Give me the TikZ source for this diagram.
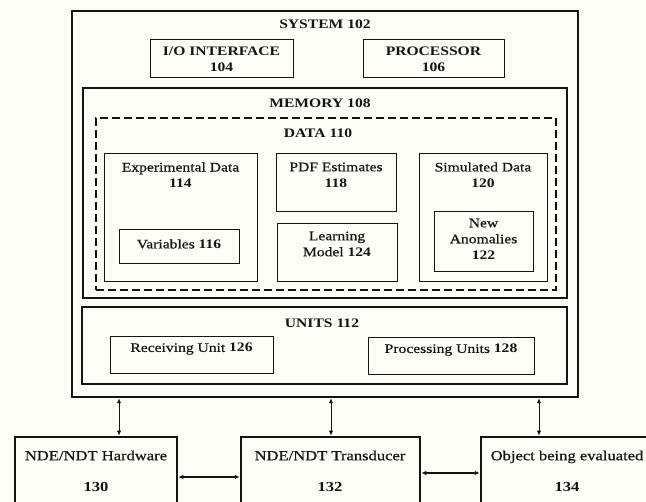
\documentclass[tikz,border=0pt]{standalone}
\usepackage{fontspec}
\setmainfont{Liberation Serif}[FakeStretch=1.2, UprightFeatures={FakeBold=0.6}]
\usetikzlibrary{arrows.meta,fit}
\definecolor{paper}{RGB}{254,254,246}
\definecolor{ink}{RGB}{20,20,20}

\begin{document}
\begin{tikzpicture}[x=1pt,y=-1pt,
  box/.style={draw=ink, line width=1pt, inner sep=0pt},
  heavybox/.style={box, line width=2.5pt},
  midbox/.style={box, line width=1.6pt},
  dashbox/.style={box, line width=1.4pt, dash pattern=on 8pt off 4pt},
  lbl/.style={text=ink, align=center, inner sep=0pt,
    font=\fontsize{13}{16}\selectfont},
  biglbl/.style={lbl, font=\fontsize{13.8}{31}\selectfont},
  link/.style={draw=ink, line width=1pt,
    {Latex[length=5pt,width=4.5pt]}-{Latex[length=5pt,width=4.5pt]}}]

% page
\fill[paper] (0,0) rectangle (646,502);
\useasboundingbox (0,0) rectangle (646,502);
\clip (0,0) rectangle (646,502);

% system and its parts
\node[heavybox, fit={(72,11) (578,397)}] (sys) {};
\node[box, fit={(150,40) (293,78)}] (io) {};
\node[box, fit={(363,40) (504,78)}] (proc) {};
\node[midbox, fit={(83,88) (567,298)}] (mem) {};
\node[dashbox, fit={(96,118) (556,290)}] (data) {};
\node[box, fit={(104,154) (257,282)}] (exp) {};
\node[box, fit={(119,230) (239,264)}] (var) {};
\node[box, fit={(276,154) (396,212)}] (pdf) {};
\node[box, fit={(277,224) (397,282)}] (learn) {};
\node[box, fit={(419,154) (547,282)}] (sim) {};
\node[box, fit={(434,212) (533,272)}] (anom) {};
\node[midbox, fit={(82,307) (567,384)}] (units) {};
\node[box, fit={(110,337) (273,374)}] (recv) {};
\node[box, fit={(368,338) (534,375)}] (procu) {};

% external blocks
\node[heavybox, fit={(15,437) (177,530)}] (hw) {};
\node[heavybox, fit={(241,437) (420,530)}] (trans) {};
\node[heavybox, fit={(481,437) (655,530)}] (obj) {};

% labels
\node[lbl] (t-sys) at (325,24) {\textbf{SYSTEM 102}};
\node[lbl] (t-io) at (221.5,59) {\textbf{I/O INTERFACE}\\\textbf{104}};
\node[lbl] (t-proc) at (433.5,59) {\textbf{PROCESSOR}\\\textbf{106}};
\node[lbl] (t-mem) at (320,103) {\textbf{MEMORY 108}};
\node[lbl] (t-data) at (318,133) {\textbf{DATA 110}};
\node[lbl] (t-exp) at (180.5,175) {Experimental Data\\\textbf{114}};
\node[lbl] (t-var) at (179,244) {Variables \textbf{116}};
\node[lbl] (t-pdf) at (336,175) {PDF Estimates\\\textbf{118}};
\node[lbl] (t-learn) at (337,244) {Learning\\Model \textbf{124}};
\node[lbl] (t-sim) at (483,175) {Simulated Data\\\textbf{120}};
\node[lbl] (t-anom) at (483.5,239) {New\\Anomalies\\\textbf{122}};
\node[lbl] (t-units) at (322,323) {\textbf{UNITS 112}};
\node[lbl] (t-recv) at (191.5,349) {Receiving Unit \textbf{126}};
\node[lbl] (t-procu) at (451,350) {Processing Units \textbf{128}};
\node[biglbl] (t-hw) at (96,471) {NDE/NDT Hardware\\\textbf{130}};
\node[biglbl] (t-trans) at (330,471) {NDE/NDT Transducer\\\textbf{132}};
\node[biglbl] (t-obj) at (567,471) {Object being evaluated\\\textbf{134}};

% connector guides
\coordinate (v1) at (119,0);
\coordinate (v2) at (331,0);
\coordinate (v3) at (539,0);
\coordinate (h1) at (0,477);
\coordinate (h2) at (0,473);

% connectors
\draw[link] (sys.south -| v1) -- (hw.north -| v1);
\draw[link] (sys.south -| v2) -- (trans.north -| v2);
\draw[link] (sys.south -| v3) -- (obj.north -| v3);
\draw[link, line width=1.3pt] (hw.east |- h1) -- (trans.west |- h1);
\draw[link, line width=1.3pt] (trans.east |- h2) -- (obj.west |- h2);
\end{tikzpicture}
\end{document}
